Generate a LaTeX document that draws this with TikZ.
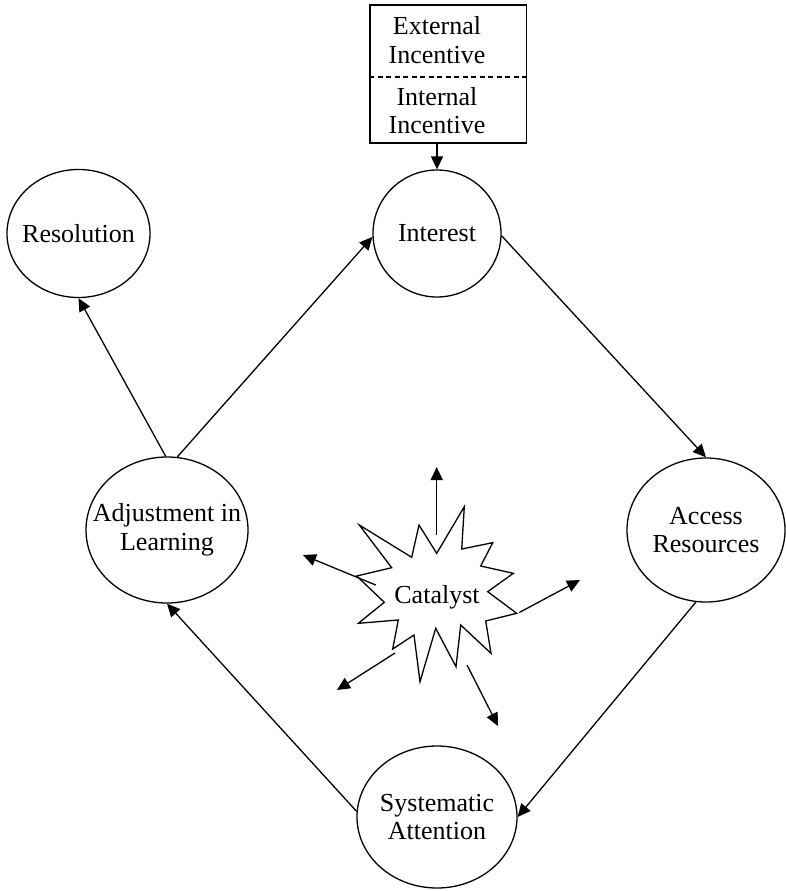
\documentclass[tikz,border=0pt]{standalone}
\usepackage{fontspec}
\setmainfont{Liberation Serif}
\usetikzlibrary{arrows.meta,shapes.geometric}
\tikzset{
  txt/.style={font=\fontsize{26}{28.5}\selectfont, align=center, inner sep=0pt},
  stage/.style={draw, ellipse, line width=1.3pt, inner sep=0pt},
  link/.style={line width=1.3pt, -{Triangle[length=13pt,width=12pt]}},
  frame/.style={draw, line width=1.3pt, inner sep=0pt},
}
\begin{document}
\begin{tikzpicture}[x=1pt,y=-1pt]
\useasboundingbox (0,0) rectangle (786,891);

% incentive box
\node[frame, minimum width=156.7pt, minimum height=137.7pt] (box) at (448.3,74) {};
\node[txt] (ext) at (437,40) {External\\Incentive};
\node[txt] (int) at (437,110.5) {Internal\\Incentive};
\coordinate (divy) at (0,77);
\draw[line width=1.1pt, dash pattern=on 5pt off 3.5pt] (box.west |- divy) -- (box.east |- divy);

% stages of the cycle
\node[stage, minimum width=128pt, minimum height=127pt] (interest) at (437,233.5) {};
\node[txt] (interestT) at (interest) {Interest};
\node[stage, minimum width=143pt, minimum height=128pt] (resolution) at (78.5,233.5) {};
\node[txt] (resolutionT) at (resolution) {Resolution};
\node[stage, minimum width=162pt, minimum height=146pt] (adjust) at (167,530) {};
\node[txt] (adjustT) at (adjust) {Adjustment in\\Learning};
\node[stage, minimum width=158pt, minimum height=144pt] (access) at (706,530) {};
\node[txt] (accessT) at (access) {Access\\Resources};
\node[stage, minimum width=160pt, minimum height=142pt] (system) at (437,817) {};
\node[txt] (systemT) at (system) {Systematic\\Attention};

% cycle connectors
\draw[link] (box.south -| interest.north) -- (interest.north);
\draw[link] (interest.-2) -- (access.north);
\draw[link] (access.-98) -- (system.east);
\draw[link] (system.176) -- (adjust.south);
\draw[link] (adjust.82) -- (interest.183);
\draw[link] (adjust.91) -- (resolution.south);

% catalyst burst
\draw[line width=1.3pt, fill=white]
  (464.3,506.7) -- (461.7,549) -- (492.7,542.7) -- (480.7,566) -- (513.3,573.3)
  -- (487.7,591.7) -- (516.7,613.3) -- (485.7,621) -- (491,653.3) -- (460.7,625)
  -- (456,666.7) -- (435.7,628.3) -- (420,681.7) -- (414,635) -- (392.7,649)
  -- (398.3,620) -- (358.3,623.3) -- (384.3,602.3) -- (356.7,576) -- (391.7,567.7)
  -- (359.3,525) -- (411.7,557.3) -- (419,525) -- (436.7,553.3) -- cycle;
\node[txt] (catalyst) at (437,597) {Catalyst};

% rays from the burst
\coordinate (b1) at (436.7,535);   \coordinate (r1) at (436.7,467);
\coordinate (b2) at (375.7,585);   \coordinate (r2) at (303,555);
\coordinate (b3) at (519.3,612.5); \coordinate (r3) at (580,580);
\coordinate (b4) at (395,653);     \coordinate (r4) at (337,690);
\coordinate (b5) at (467,665);     \coordinate (r5) at (498,726);
\foreach \i in {1,...,5} \draw[link] (b\i) -- (r\i);
\end{tikzpicture}
\end{document}
